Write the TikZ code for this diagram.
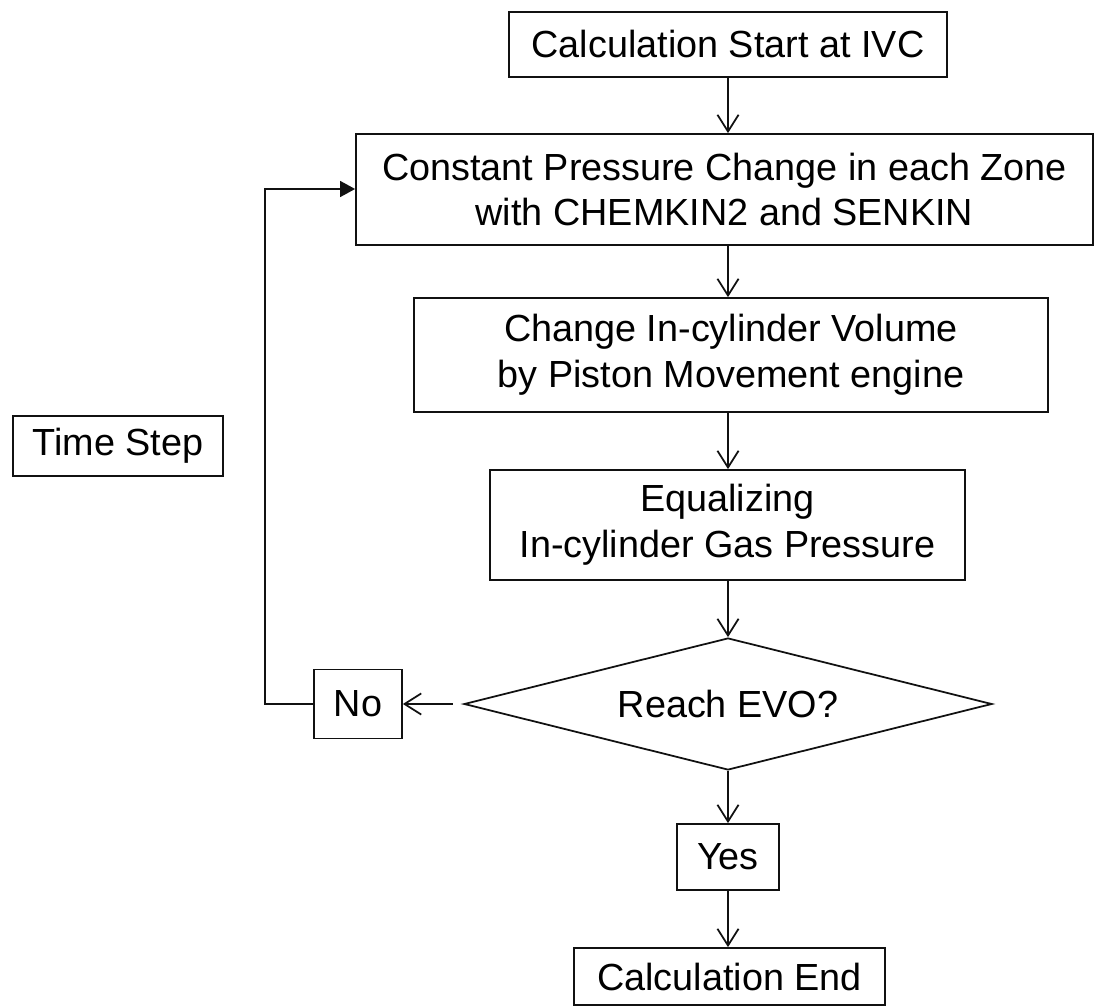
\documentclass[tikz,border=0pt]{standalone}
\usepackage{fontspec}
\setmainfont{Liberation Sans}
\usetikzlibrary{arrows.meta,shapes.geometric,positioning}
\definecolor{inkblack}{HTML}{111111}

\begin{document}
\begin{tikzpicture}[>={Straight Barb[length=9.5pt,width=12pt]}, line width=1pt, draw=inkblack, font=\fontsize{21.5}{26}\selectfont,
  procbox/.style={draw=inkblack, align=center, inner sep=0pt},
  decision/.style={draw=inkblack, diamond, aspect=4, inner sep=0pt, minimum width=10.56cm, minimum height=2.64cm},
  flowarrow/.style={->, inkblack}]
\useasboundingbox (0,0) rectangle (21.88,-20.16);
\coordinate (spine) at (14.56,0);
\node[procbox, minimum width=8.76cm, minimum height=1.30cm] (start) at (14.56,-0.89) {Calculation Start at IVC};
\node[procbox, minimum width=14.74cm, minimum height=2.22cm] (chem) at (14.49,-3.79) {Constant Pressure Change in each Zone\\with CHEMKIN2 and SENKIN};
\node[procbox, minimum width=12.68cm, minimum height=2.28cm] (volume) at (14.62,-7.10) {Change In-cylinder Volume\\by Piston Movement engine};
\node[procbox, minimum width=9.50cm, minimum height=2.20cm] (equal) at (14.55,-10.50) {Equalizing\\ In-cylinder Gas Pressure};
\node[decision] (evo) at (14.56,-14.08) {Reach EVO?};
\node[procbox, minimum width=1.76cm, minimum height=1.38cm] (no) at (7.16,-14.08) {No};
\node[procbox, minimum width=2.04cm, minimum height=1.32cm] (yes) at (14.56,-17.14) {Yes};
\node[procbox, minimum width=6.22cm, minimum height=1.14cm] (finish) at (14.59,-19.53) {Calculation End};
\node[procbox, minimum width=4.20cm, minimum height=1.20cm] (timestep) at (2.36,-8.92) {Time Step};
\coordinate (loopdown) at (5.30,-14.08);
\coordinate (loopup) at (5.30,-3.78);
\draw[flowarrow] (start.south -| spine) -- (chem.north -| spine);
\draw[flowarrow] (chem.south -| spine) -- (volume.north -| spine);
\draw[flowarrow] (volume.south -| spine) -- (equal.north -| spine);
\draw[flowarrow] (equal.south -| spine) -- (evo.north);
\draw[flowarrow] (evo.south) -- (yes.north);
\draw[flowarrow] (yes.south) -- (finish.north -| yes.south);
\draw[flowarrow, shorten <=6pt] (evo.west) -- (no.east);
\draw[-{Triangle[length=8.5pt,width=9pt]}, inkblack] (no.west) -- (loopdown) -- (loopup) -- (loopup -| chem.west);
\end{tikzpicture}
\end{document}
